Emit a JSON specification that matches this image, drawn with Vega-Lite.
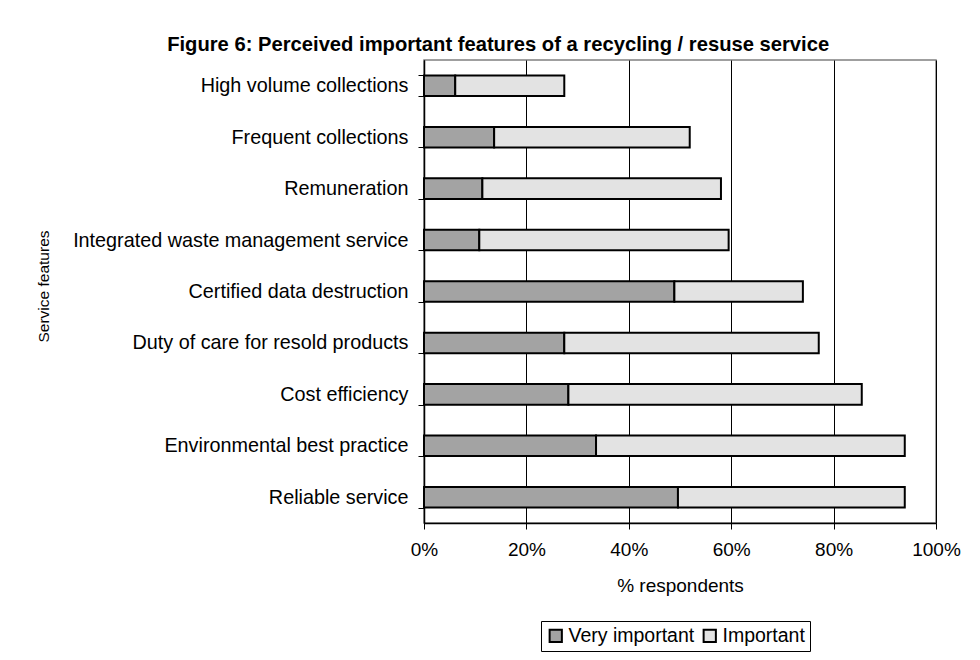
{
  "$schema": "https://vega.github.io/schema/vega-lite/v6.json",
  "width": 512,
  "height": 463,
  "autosize": {"type": "none"},
  "padding": {"left": 424, "top": 60, "right": 44, "bottom": 137},
  "background": "white",
  "title": {
    "text": "Figure 6: Perceived important features of a recycling / resuse service",
    "font": "Liberation Sans",
    "fontSize": 20.2,
    "fontWeight": "bold",
    "color": "#000",
    "anchor": "middle",
    "frame": "bounds",
    "offset": -5,
    "dx": 0
  },
  "data": {
    "values": [
      {"feature": "High volume collections", "level": "Very important", "ord": 1, "value": 6.1},
      {"feature": "High volume collections", "level": "Important", "ord": 2, "value": 21.3},
      {"feature": "Frequent collections", "level": "Very important", "ord": 1, "value": 13.7},
      {"feature": "Frequent collections", "level": "Important", "ord": 2, "value": 38.2},
      {"feature": "Remuneration", "level": "Very important", "ord": 1, "value": 11.4},
      {"feature": "Remuneration", "level": "Important", "ord": 2, "value": 46.6},
      {"feature": "Integrated waste management service", "level": "Very important", "ord": 1, "value": 10.8},
      {"feature": "Integrated waste management service", "level": "Important", "ord": 2, "value": 48.7},
      {"feature": "Certified data destruction", "level": "Very important", "ord": 1, "value": 48.9},
      {"feature": "Certified data destruction", "level": "Important", "ord": 2, "value": 25.1},
      {"feature": "Duty of care for resold products", "level": "Very important", "ord": 1, "value": 27.4},
      {"feature": "Duty of care for resold products", "level": "Important", "ord": 2, "value": 49.7},
      {"feature": "Cost efficiency", "level": "Very important", "ord": 1, "value": 28.2},
      {"feature": "Cost efficiency", "level": "Important", "ord": 2, "value": 57.3},
      {"feature": "Environmental best practice", "level": "Very important", "ord": 1, "value": 33.6},
      {"feature": "Environmental best practice", "level": "Important", "ord": 2, "value": 60.3},
      {"feature": "Reliable service", "level": "Very important", "ord": 1, "value": 49.6},
      {"feature": "Reliable service", "level": "Important", "ord": 2, "value": 44.3}
    ]
  },
  "mark": {"type": "bar", "stroke": "#000", "strokeWidth": 2},
  "encoding": {
    "y": {
      "field": "feature",
      "type": "nominal",
      "sort": ["High volume collections", "Frequent collections", "Remuneration", "Integrated waste management service", "Certified data destruction", "Duty of care for resold products", "Cost efficiency", "Environmental best practice", "Reliable service"],
      "scale": {"paddingInner": 0.6, "paddingOuter": 0.3},
      "axis": {
        "title": "Service features",
        "titleFont": "Liberation Sans",
        "titleFontSize": 15.5,
        "titleFontWeight": "normal",
        "titleColor": "#000",
        "titleAngle": 270,
        "titleX": -381,
        "titleY": 226,
        "titleAlign": "center",
        "titleBaseline": "middle",
        "labelFont": "Liberation Sans",
        "labelFontSize": 19.8,
        "labelColor": "#000",
        "labelPadding": 10,
        "labelLimit": 500,
        "tickBand": "extent",
        "tickSize": 6,
        "tickColor": "#000",
        "domainColor": "#000",
        "domainWidth": 1.5,
        "grid": false
      }
    },
    "x": {
      "field": "value",
      "type": "quantitative",
      "stack": "zero",
      "scale": {"domain": [0, 100], "nice": false},
      "axis": {
        "title": "% respondents",
        "titleFont": "Liberation Sans",
        "titleFontSize": 19,
        "titleFontWeight": "normal",
        "titleColor": "#000",
        "titlePadding": 17,
        "values": [0, 20, 40, 60, 80, 100],
        "labelExpr": "datum.value + '%'",
        "labelFlush": false,
        "labelFont": "Liberation Sans",
        "labelFontSize": 19,
        "labelColor": "#000",
        "labelPadding": 11,
        "tickSize": 6,
        "tickColor": "#000",
        "domainColor": "#000",
        "domainWidth": 1.5,
        "grid": true,
        "gridColor": "#000",
        "gridWidth": 1
      }
    },
    "color": {
      "field": "level",
      "type": "nominal",
      "sort": ["Very important", "Important"],
      "scale": {"domain": ["Very important", "Important"], "range": ["#a3a3a3", "#e3e3e3"]},
      "legend": {
        "title": null,
        "orient": "none",
        "legendX": 117,
        "legendY": 561,
        "direction": "horizontal",
        "strokeColor": "#000",
        "fillColor": "#fff",
        "padding": 5,
        "symbolType": "square",
        "symbolSize": 150,
        "symbolStrokeColor": "#000",
        "symbolStrokeWidth": 2,
        "symbolOpacity": 1,
        "labelFont": "Liberation Sans",
        "labelFontSize": 19.5,
        "labelColor": "#000",
        "labelOffset": 3,
        "columnPadding": 4
      }
    },
    "order": {"field": "ord", "type": "quantitative"}
  },
  "config": {
    "view": {"stroke": "#808080", "strokeWidth": 1.5}
  }
}
